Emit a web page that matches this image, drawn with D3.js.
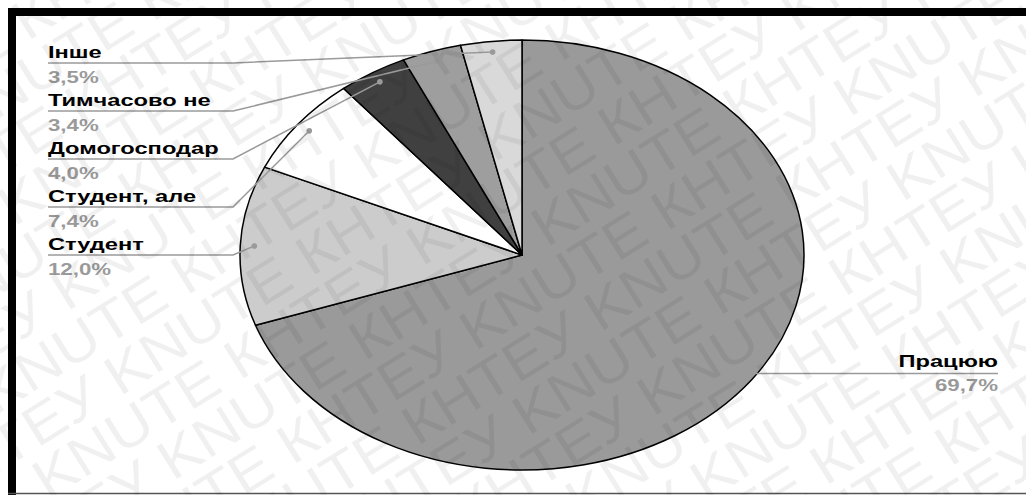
<!DOCTYPE html>
<html>
<head>
<meta charset="utf-8">
<script src="https://cdn.jsdelivr.net/npm/d3@7"></script>
<style>
  html, body { margin: 0; padding: 0; background: #fff; }
  svg { display: block; }
</style>
</head>
<body>
<svg id="chart" width="1026" height="495"></svg>
<script>
// ---- data ----
const categories = ["Працюю", "Студент", "Студент, але", "Домогосподар", "Тимчасово не", "Інше"];
const values = [69.7, 12.0, 7.4, 4.0, 3.4, 3.5];
const valueLabels = ["69,7%", "12,0%", "7,4%", "4,0%", "3,4%", "3,5%"];
const colors = ["#9a9a9a", "#cccccc", "#ffffff", "#404040", "#9e9e9e", "#d9d9d9"];
const watermarkWords = ["KNUTE", "КНТЕУ"];

// ---- layout ----
const W = 1026, H = 495;
const cx = 522, cy = 255;
const R = 215;            // vertical radius
const sx = 282 / 215;     // horizontal stretch of the pie
const textStretch = 1.39;
const font = "'Liberation Sans', Arial, sans-serif";

const svg = d3.select("#chart");

svg.append("defs").append("clipPath").attr("id", "frameClip")
  .append("rect").attr("x", 0).attr("y", 0).attr("width", W).attr("height", H);

// frame
svg.append("rect").attr("x", 8).attr("y", 8).attr("width", W - 8).attr("height", 8).attr("fill", "#000");
svg.append("rect").attr("x", 8).attr("y", 8).attr("width", 8).attr("height", H - 8).attr("fill", "#000");
svg.append("line").attr("x1", 8).attr("x2", W).attr("y1", 493.5).attr("y2", 493.5)
  .attr("stroke", "#555").attr("stroke-width", 1.5);

const data = categories.map((c, i) => ({ name: c, value: values[i], label: valueLabels[i], color: colors[i] }));

const pie = d3.pie().value(d => d.value).sort(null).startAngle(0).endAngle(2 * Math.PI);
const arcs = pie(data);
const arc = d3.arc().innerRadius(0).outerRadius(R);
const dotArc = d3.arc().innerRadius(R * 0.95).outerRadius(R * 0.95);

const pieG = svg.append("g").attr("transform", `translate(${cx},${cy}) scale(${sx},1)`);
pieG.selectAll("path").data(arcs).join("path")
  .attr("d", arc)
  .attr("fill", d => d.data.color)
  .attr("stroke", "#000")
  .attr("stroke-width", 1.5)
  .attr("stroke-linejoin", "round")
  .attr("vector-effect", "non-scaling-stroke");

// labels
const labelsG = svg.append("g");
const leftItems = arcs.slice(1).reverse(); // Інше at top
const leftY = d3.scaleLinear().domain([0, 1]).range([63, 111]);
const leftX0 = 48, leftElbow = 233, rightX = 998;

function stretchedText(g, x, y, txt, anchor, color, size) {
  g.append("text")
    .attr("transform", `translate(${x},${y}) scale(${textStretch},1)`)
    .attr("text-anchor", anchor)
    .attr("font-family", font)
    .attr("font-weight", "bold")
    .attr("font-size", size)
    .attr("fill", color)
    .text(txt);
}

function dotPos(d) {
  const c = dotArc.centroid(d);
  return [cx + c[0] * sx, cy + c[1]];
}

leftItems.forEach((d, k) => {
  const uy = leftY(k);
  const [dx, dy] = dotPos(d);
  labelsG.append("polyline")
    .attr("points", `${leftX0},${uy} ${leftElbow},${uy} ${dx},${dy}`)
    .attr("fill", "none").attr("stroke", "#9a9a9a").attr("stroke-width", 1.5);
  labelsG.append("circle").attr("cx", dx).attr("cy", dy).attr("r", 2.8).attr("fill", "#9a9a9a");
  stretchedText(labelsG, leftX0, uy - 5, d.data.name, "start", "#000", 17);
  stretchedText(labelsG, leftX0, uy + 20, d.data.label, "start", "#9a9a9a", 16);
});

{
  const d = arcs[0];
  const [dx, dy] = dotPos(d);
  labelsG.append("line").attr("x1", dx).attr("x2", rightX).attr("y1", dy).attr("y2", dy)
    .attr("stroke", "#9a9a9a").attr("stroke-width", 1.5);
  labelsG.append("circle").attr("cx", dx).attr("cy", dy).attr("r", 2.8).attr("fill", "#9a9a9a");
  stretchedText(labelsG, rightX, dy - 6, d.data.name, "end", "#000", 17);
  stretchedText(labelsG, rightX, dy + 18, d.data.label, "end", "#9a9a9a", 16);
}

// watermark overlay
const wm = svg.append("g").attr("clip-path", "url(#frameClip)")
  .append("g")
  .attr("transform", "rotate(-32)")
  .attr("font-family", font)
  .attr("font-size", 56)
  .attr("fill", "#000")
  .attr("fill-opacity", 0.06)
  .attr("pointer-events", "none");
const rowStep = 50;
for (let r = -6; r < 20; r++) {
  const words = [];
  for (let k = 0; k < 14; k++) words.push(watermarkWords[(k + r) % 2 === 0 ? 0 : 1]);
  wm.append("text")
    .attr("x", -500 + (r % 2) * 100)
    .attr("y", r * rowStep)
    .attr("transform", `scale(1.1,1)`)
    .text(words.join(" "));
}
</script>
</body>
</html>
